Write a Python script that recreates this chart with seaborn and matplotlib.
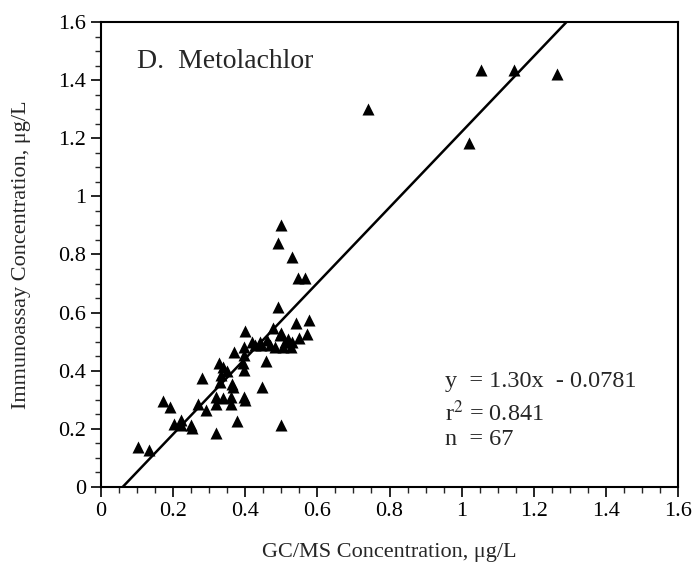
import numpy as np
import pandas as pd
import matplotlib
matplotlib.use("Agg")
import matplotlib.pyplot as plt
from matplotlib.ticker import MultipleLocator, FuncFormatter
import seaborn as sns

# GC/MS vs immunoassay (ug/L)
gcms = [0.74, 1.02, 1.055, 1.145, 1.265,
        0.50, 0.49, 0.53, 0.545, 0.565, 0.49, 0.54,
        0.577, 0.57, 0.549, 0.528, 0.518, 0.504, 0.496, 0.482, 0.476, 0.459,
        0.445, 0.427, 0.50, 0.51, 0.47,
        0.399, 0.397, 0.396, 0.369, 0.394, 0.397, 0.457, 0.328, 0.339, 0.281,
        0.334, 0.330, 0.362, 0.367, 0.447, 0.397, 0.40, 0.320, 0.339, 0.360,
        0.320, 0.360, 0.270, 0.291,
        0.171, 0.191, 0.202, 0.222, 0.222, 0.249, 0.251, 0.378, 0.319, 0.498,
        0.103, 0.133,
        0.35, 0.42, 0.44, 0.53]
immuno = [1.30, 1.185, 1.435, 1.435, 1.42,
          0.90, 0.84, 0.79, 0.72, 0.72, 0.62, 0.565,
          0.575, 0.525, 0.514, 0.483, 0.51, 0.483, 0.523, 0.483, 0.547, 0.506,
          0.489, 0.489, 0.53, 0.50, 0.49,
          0.537, 0.483, 0.455, 0.466, 0.426, 0.403, 0.434, 0.426, 0.414, 0.374,
          0.385, 0.362, 0.354, 0.343, 0.343, 0.311, 0.30, 0.311, 0.305, 0.311,
          0.286, 0.286, 0.286, 0.265,
          0.296, 0.274, 0.216, 0.231, 0.213, 0.213, 0.202, 0.227, 0.185, 0.213,
          0.139, 0.127,
          0.40, 0.50, 0.50, 0.50]

slope = 1.30
intercept = -0.0781
fit_x = [0.0, 1.6]

df = pd.DataFrame({"gcms": gcms, "immuno": immuno})

sns.set_style("white")
plt.rcParams["font.family"] = ["Liberation Serif", "DejaVu Serif"]
plt.rcParams["mathtext.fontset"] = "stix"

fig = plt.figure(figsize=(6.94, 5.68), dpi=100)
ax = fig.add_axes([0.1455, 0.1426, 0.8315, 0.8187])

sns.scatterplot(data=df, x="gcms", y="immuno", marker="^", color="black",
                s=75, edgecolor="black", linewidth=0, ax=ax, legend=False)
sns.lineplot(x=fit_x, y=[slope * v + intercept for v in fit_x], color="black",
             linewidth=1.8, ax=ax)

ax.set_xlim(0, 1.6)
ax.set_ylim(0, 1.6)
fmt = FuncFormatter(lambda v, p: f"{v:g}")
for a in (ax.xaxis, ax.yaxis):
    a.set_major_locator(MultipleLocator(0.2))
    a.set_minor_locator(MultipleLocator(0.05))
    a.set_major_formatter(fmt)
ax.tick_params(which="major", direction="out", length=7, width=1.2,
               labelsize=16, colors="black", bottom=True, left=True)
ax.tick_params(which="minor", direction="out", length=4, width=1.0,
               bottom=True, left=True)
for sp in ax.spines.values():
    sp.set_visible(True)
    sp.set_color("black")
    sp.set_linewidth(1.5)

ax.set_xlabel("GC/MS Concentration, μg/L", fontsize=16, labelpad=16)
ax.set_ylabel("Immunoassay Concentration, μg/L", fontsize=16, labelpad=20)

ax.text(0.1, 1.44, "D.  Metolachlor", fontsize=20)
ax.text(0.955, 0.345, "y  = 1.30x  - 0.0781", fontsize=17.5)
ax.text(0.955, 0.225, "r$^2$ = 0.841", fontsize=17.5)
ax.text(0.955, 0.145, "n  = 67", fontsize=17.5)

fig.savefig("out.png", dpi=100)
